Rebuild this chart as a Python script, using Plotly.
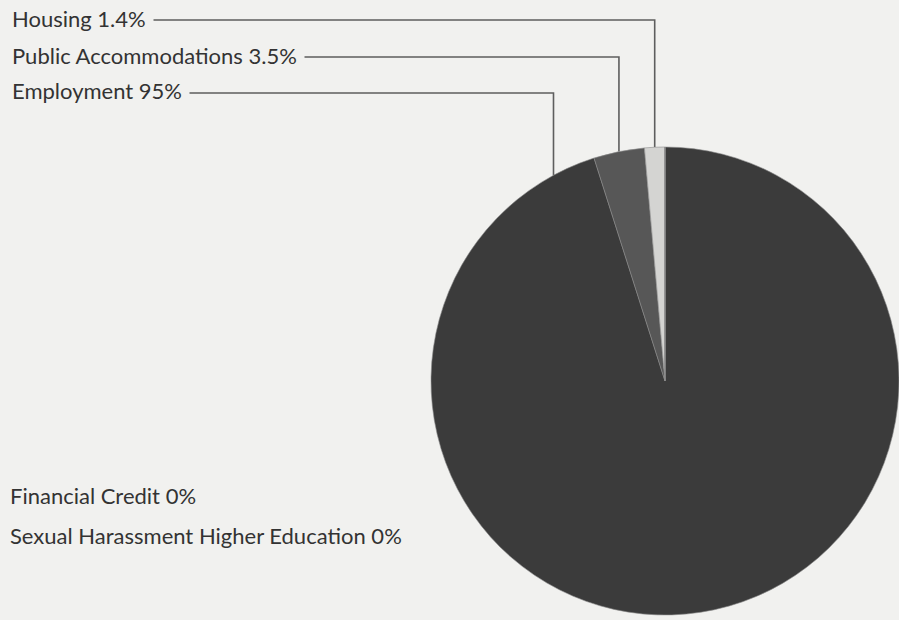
import math
import plotly.graph_objects as go

# ---- data ----
categories = ["Employment", "Public Accommodations", "Housing",
              "Financial Credit", "Sexual Harassment Higher Education"]
values = [95, 3.5, 1.4, 0, 0]
slice_colors = ["#3b3b3b", "#575757", "#d4d4d2", "#888888", "#888888"]

W, H = 899, 620
BG = "#f1f1ef"
TXT = "#333333"
LINE = "#5e5e5e"

# pie geometry (pixels)
cx, cy, r = 665, 381, 234

fig = go.Figure()
fig.add_trace(go.Pie(
    labels=categories, values=values, sort=False, direction="clockwise",
    rotation=0, textinfo="none", hoverinfo="label+percent",
    marker=dict(colors=slice_colors, line=dict(color="#8a8a8a", width=0.6)),
    domain=dict(x=[(cx - r) / W, (cx + r) / W],
                y=[(H - (cy + r)) / H, (H - (cy - r)) / H]),
    showlegend=False,
))

def px2paper(x, y):
    return x / W, (H - y) / H

total = sum(values)
cum = 0.0
anchors = {}
for c, v in zip(categories, values):
    start = cum / total * 360
    end = (cum + v) / total * 360
    cum += v
    if v / total > 0.5:
        ang = end - 0.03 * 360
    else:
        ang = (start + end) / 2
    anchors[c] = ang

labels_top = [("Housing", 20), ("Public Accommodations", 57), ("Employment", 93)]
labels_bottom = [("Financial Credit", 495), ("Sexual Harassment Higher Education", 535)]

shapes = []
annotations = []
pad = 7
font = dict(family="Lato", size=22, color=TXT)
text_x = 11

for name, ly in labels_top:
    v = values[categories.index(name)]
    ang = math.radians(anchors[name])
    ax = cx + r * math.sin(ang)
    ay = cy - r * math.cos(ang)
    x0p, y0p = px2paper(14, ly)
    axp, lyp = px2paper(ax, ly)
    _, ayp = px2paper(ax, ay)
    shapes.append(dict(type="path", xref="paper", yref="paper",
                       path=f"M {x0p},{y0p} H {axp} V {ayp}",
                       line=dict(color=LINE, width=1.6), layer="below"))
    annotations.append(dict(x=(text_x - pad) / W, y=(H - (ly - 2)) / H,
                            xref="paper", yref="paper",
                            xanchor="left", yanchor="middle", showarrow=False,
                            text=f"{name} {v:g}%", font=font, bgcolor=BG,
                            borderpad=pad))

for name, ly in labels_bottom:
    v = values[categories.index(name)]
    annotations.append(dict(x=(text_x - 2 - pad) / W, y=(H - ly) / H,
                            xref="paper", yref="paper",
                            xanchor="left", yanchor="middle", showarrow=False,
                            text=f"{name} {v:g}%", font=font, borderpad=pad))

fig.update_layout(
    width=W, height=H, margin=dict(l=0, r=0, t=0, b=0),
    paper_bgcolor=BG, plot_bgcolor=BG,
    shapes=shapes, annotations=annotations,
)

fig.write_html("out.html")
